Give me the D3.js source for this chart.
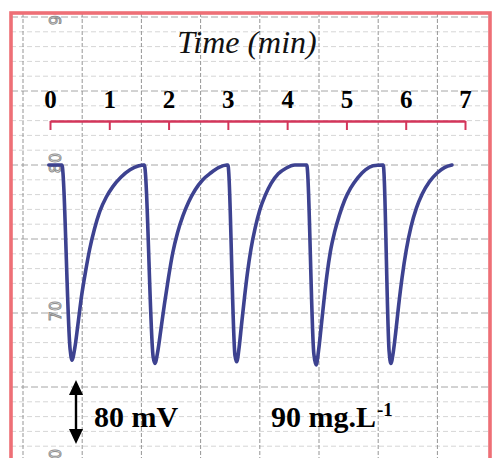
<!DOCTYPE html>
<html>
<head>
<meta charset="utf-8">
<script src="https://cdn.jsdelivr.net/npm/d3@7/dist/d3.min.js"></script>
<style>
  html, body { margin: 0; padding: 0; background: #ffffff; }
  svg { display: block; }
</style>
</head>
<body>
<script>
// Recorder trace: electrode potential (mV, relative to baseline) versus time (min)
const timeTicks = [0, 1, 2, 3, 4, 5, 6, 7];

const timeMin = [
  -0.02, 0.20, 0.34, 0.37, 0.42, 0.47, 0.53, 0.60, 0.67, 0.75, 0.84, 0.95, 1.06, 1.20, 1.35, 1.50, 1.57,
  1.59, 1.74, 1.77, 1.82, 1.87, 1.93, 2.00, 2.07, 2.15, 2.24, 2.34, 2.45, 2.57, 2.71, 2.85, 2.98,
  3.00, 3.12, 3.15, 3.19, 3.23, 3.28, 3.33, 3.39, 3.46, 3.54, 3.63, 3.73, 3.85, 3.98, 4.13, 4.30,
  4.33, 4.45, 4.49, 4.53, 4.57, 4.62, 4.67, 4.73, 4.80, 4.88, 4.97, 5.07, 5.19, 5.32, 5.45, 5.60,
  5.62, 5.72, 5.75, 5.79, 5.83, 5.88, 5.94, 6.01, 6.09, 6.18, 6.28, 6.40, 6.53, 6.66, 6.78
];

const signalMV = [
  0, 0, -231, -244, -228, -200, -165, -133, -105, -80, -58, -40, -27, -15, -6, -1, 0,
  0, -240, -248, -232, -206, -174, -140, -110, -85, -64, -46, -31, -19, -10, -3, 0,
  0, -238, -246, -228, -200, -166, -135, -105, -79, -56, -38, -23, -11, -4, 0, 0,
  0, -236, -250, -232, -205, -170, -138, -108, -84, -63, -44, -29, -16, -6, -1, 0,
  0, -233, -248, -234, -210, -176, -140, -106, -77, -54, -36, -21, -10, -3, 0
];

// printed chart-paper divisions
const paperLabels = [90, 80, 70, 60];
const paperUnits = d3.range(59, 92);      // minor horizontal rules
const paperColumns = d3.range(0, 9);      // vertical rules

// annotations
const scaleBarMV = 80;
const scaleBarLabel = "80 mV";
const concLabel = "90 mg.L";
const concSup = "-1";
const axisTitle = "Time (min)";

const W = 492, H = 458;
const serif = "'Liberation Serif', 'Times New Roman', serif";

const svg = d3.select("body").append("svg")
  .attr("width", W).attr("height", H);

// scales
const x = d3.scaleLinear().domain([0, 7]).range([50, 465]);
const y = d3.scaleLinear().domain([0, -250]).range([165, 365]);
const paperY = d3.scaleLinear().domain([80, 70]).range([165, 313]);
const paperX = d3.scaleLinear().domain([0, 8]).range([23, 496.6]);

// frame
const frame = { x0: 11, y0: 13, x1: 490, y1: 475 };
svg.append("defs").append("clipPath").attr("id", "paper")
  .append("rect")
  .attr("x", frame.x0).attr("y", frame.y0)
  .attr("width", frame.x1 - frame.x0).attr("height", H - frame.y0);

const paper = svg.append("g").attr("clip-path", "url(#paper)");

// horizontal rules (every 5th one heavier)
paper.append("g").selectAll("line")
  .data(paperUnits)
  .join("line")
  .attr("x1", frame.x0).attr("x2", frame.x1)
  .attr("y1", d => paperY(d)).attr("y2", d => paperY(d))
  .attr("stroke", d => d % 5 === 0 ? "#a6a6a6" : "#d6d6d6")
  .attr("stroke-width", 1)
  .attr("stroke-dasharray", d => d % 5 === 0 ? "7,3" : "5,3");

// vertical rules
paper.append("g").selectAll("line")
  .data(paperColumns)
  .join("line")
  .attr("x1", d => paperX(d)).attr("x2", d => paperX(d))
  .attr("y1", frame.y0).attr("y2", frame.y1)
  .attr("stroke", "#959595")
  .attr("stroke-width", 1)
  .attr("stroke-dasharray", "4,2");

// printed scale numbers on the paper
paper.append("g").selectAll("text")
  .data(paperLabels)
  .join("text")
  .attr("transform", d => `translate(55,${paperY(d) - 2}) rotate(-90)`)
  .attr("text-anchor", "middle")
  .attr("dy", "0.35em")
  .attr("font-family", "'DejaVu Sans', sans-serif")
  .attr("font-size", 16)
  .attr("fill", "none")
  .attr("stroke", "#8f8f8f")
  .attr("stroke-width", 1)
  .text(d => d);

// axis title
svg.append("text")
  .attr("x", 247).attr("y", 53)
  .attr("text-anchor", "middle")
  .attr("font-family", serif)
  .attr("font-style", "italic")
  .attr("font-size", 32)
  .attr("fill", "#111")
  .text(axisTitle);

// time axis (red, ticks pointing down, labels above)
const axis = svg.append("g")
  .attr("transform", "translate(0,121)")
  .call(d3.axisTop(x).tickValues(timeTicks).tickFormat(d3.format("d"))
    .tickSizeInner(-9).tickSizeOuter(0).tickPadding(13));
axis.select(".domain")
  .attr("stroke", "#d3355a").attr("stroke-width", 2.6);
axis.selectAll(".tick line")
  .attr("stroke", "#d3355a").attr("stroke-width", 2);
axis.selectAll(".tick text")
  .attr("font-family", serif)
  .attr("font-weight", "bold")
  .attr("font-size", 25)
  .attr("fill", "#000");

// recorder trace
const pts = timeMin.map((t, i) => [t, signalMV[i]]);
paper.append("path")
  .datum(pts)
  .attr("d", d3.line().x(d => x(d[0])).y(d => y(d[1])).curve(d3.curveMonotoneX))
  .attr("fill", "none")
  .attr("stroke", "#3d4290")
  .attr("stroke-width", 3.6)
  .attr("stroke-linejoin", "round")
  .attr("stroke-linecap", "round");

// potential scale bar (double arrow, length = scaleBarMV)
const barTop = 380;
const barLen = y(-scaleBarMV) - y(0);
const barX = 76;
const bar = svg.append("g").attr("fill", "#000").attr("stroke", "#000");
bar.append("line")
  .attr("x1", barX).attr("x2", barX)
  .attr("y1", barTop + 8).attr("y2", barTop + barLen - 8)
  .attr("stroke-width", 2.4);
bar.append("path")
  .attr("stroke", "none")
  .attr("d", `M${barX},${barTop} L${barX - 7},${barTop + 15} L${barX + 7},${barTop + 15} Z`);
bar.append("path")
  .attr("stroke", "none")
  .attr("d", `M${barX},${barTop + barLen} L${barX - 7},${barTop + barLen - 15} L${barX + 7},${barTop + barLen - 15} Z`);

svg.append("text")
  .attr("x", 94).attr("y", 427)
  .attr("font-family", serif)
  .attr("font-weight", "bold")
  .attr("font-size", 30)
  .attr("fill", "#000")
  .text(scaleBarLabel);

const conc = svg.append("text")
  .attr("x", 271).attr("y", 427)
  .attr("font-family", serif)
  .attr("font-weight", "bold")
  .attr("font-size", 30)
  .attr("fill", "#000");
conc.append("tspan").text(concLabel);
conc.append("tspan")
  .attr("font-size", 19)
  .attr("dx", 1)
  .attr("dy", -11)
  .text(concSup);

// red border of the recorder sheet
svg.append("rect")
  .attr("x", frame.x0).attr("y", frame.y0)
  .attr("width", frame.x1 - frame.x0).attr("height", frame.y1 - frame.y0)
  .attr("fill", "none")
  .attr("stroke", "#ee6f76")
  .attr("stroke-width", 3.6);
</script>
</body>
</html>
